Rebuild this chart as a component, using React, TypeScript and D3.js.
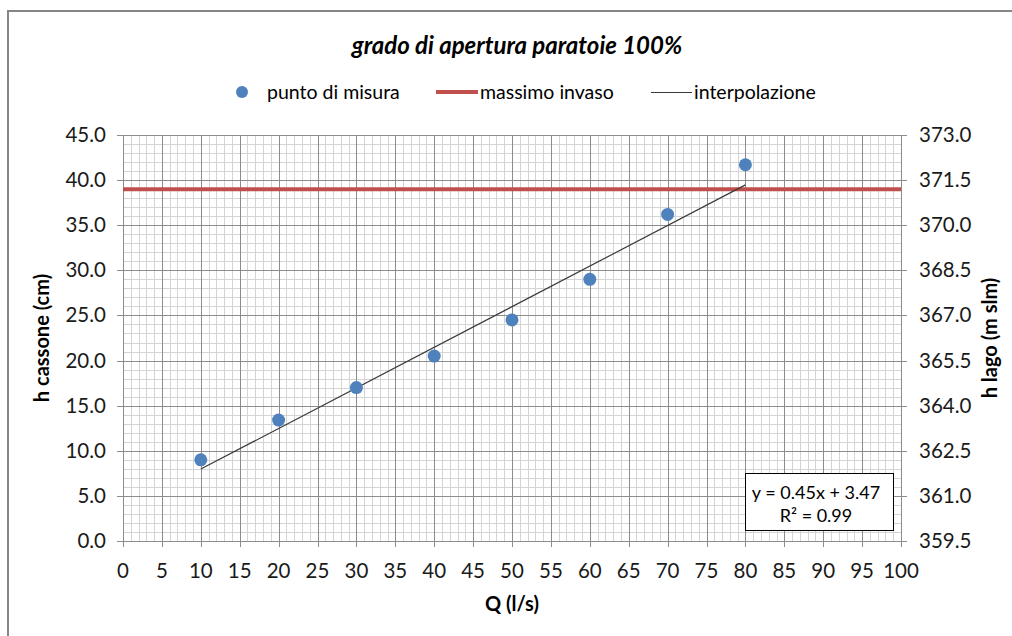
import React, { useEffect, useRef } from 'react';
import * as d3 from 'd3';

// measured points (Q in l/s, h cassone in cm)
const portate = [10, 20, 30, 40, 50, 60, 70, 80];
const altezze = [9.0, 13.4, 17.0, 20.5, 24.5, 29.0, 36.2, 41.7];

const massimoInvaso = 39.0;
const slope = 0.45;
const intercept = 3.47;
const equationLines = ['y = 0.45x + 3.47', 'R² = 0.99'];

const xTicks = d3.range(0, 101, 5);
const yTicks = d3.range(0, 46, 5);
const rightTicks = ['359.5', '361.0', '362.5', '364.0', '365.5', '367.0', '368.5', '370.0', '371.5', '373.0'];

const legendItems = ['punto di misura', 'massimo invaso', 'interpolazione'];

const FONT = 'Lato, "Open Sans", sans-serif';

const App: React.FC = () => {
  const svgRef = useRef<SVGSVGElement>(null);

  useEffect(() => {
    if (!svgRef.current) return;
    const svg = d3.select(svgRef.current);
    svg.selectAll('*').remove();

    const left = 123, right = 901, top = 135, bottom = 541;
    const x = d3.scaleLinear().domain([0, 100]).range([left, right]);
    const y = d3.scaleLinear().domain([0, 45]).range([bottom, top]);

    // outer chart frame
    svg.append('path')
      .attr('d', `M1100,11 H8 V700`)
      .attr('fill', 'none')
      .attr('stroke', '#868686')
      .attr('stroke-width', 2);

    // title
    svg.append('text')
      .attr('x', 517).attr('y', 54)
      .attr('text-anchor', 'middle')
      .attr('font-family', FONT)
      .attr('font-size', 24)
      .attr('font-weight', 'bold')
      .attr('font-style', 'italic')
      .attr('fill', '#000')
      .text('grado di apertura paratoie 100%');

    // grid: minor
    const grid = svg.append('g');
    d3.range(0, 101, 1).filter(v => v % 5 !== 0).forEach(v => {
      grid.append('line')
        .attr('x1', Math.round(x(v)) + 0.5).attr('x2', Math.round(x(v)) + 0.5)
        .attr('y1', top).attr('y2', bottom)
        .attr('stroke', '#d4d4d4').attr('stroke-width', 1);
    });
    d3.range(0, 46, 1).filter(v => v % 5 !== 0).forEach(v => {
      grid.append('line')
        .attr('y1', Math.round(y(v)) + 0.5).attr('y2', Math.round(y(v)) + 0.5)
        .attr('x1', left).attr('x2', right)
        .attr('stroke', '#d4d4d4').attr('stroke-width', 1);
    });
    // grid: major
    xTicks.forEach(v => {
      grid.append('line')
        .attr('x1', Math.round(x(v)) + 0.5).attr('x2', Math.round(x(v)) + 0.5)
        .attr('y1', top).attr('y2', bottom + 6)
        .attr('stroke', '#8c8c8c').attr('stroke-width', 1);
    });
    yTicks.forEach(v => {
      grid.append('line')
        .attr('y1', Math.round(y(v)) + 0.5).attr('y2', Math.round(y(v)) + 0.5)
        .attr('x1', left - 6).attr('x2', right + 6)
        .attr('stroke', '#8c8c8c').attr('stroke-width', 1);
    });

    // tick labels
    const tickStyle = (sel: d3.Selection<SVGTextElement, unknown, null, undefined>) =>
      sel.attr('font-family', FONT).attr('font-size', 20.5).attr('fill', '#1a1a1a');

    xTicks.forEach(v => {
      tickStyle(svg.append('text')
        .attr('x', x(v)).attr('y', 578)
        .attr('text-anchor', 'middle')
        .text(String(v)));
    });
    yTicks.forEach(v => {
      tickStyle(svg.append('text')
        .attr('x', 106).attr('y', y(v) + 7)
        .attr('text-anchor', 'end')
        .text(v.toFixed(1)));
    });
    yTicks.forEach((v, i) => {
      tickStyle(svg.append('text')
        .attr('x', 919).attr('y', y(v) + 7)
        .attr('text-anchor', 'start')
        .text(rightTicks[i]));
    });

    // axis titles
    const axisTitle = (sel: d3.Selection<SVGTextElement, unknown, null, undefined>) =>
      sel.attr('font-family', FONT).attr('font-size', 20).attr('font-weight', 'bold').attr('fill', '#000');
    axisTitle(svg.append('text')
      .attr('transform', `translate(49,${(top + bottom) / 2}) rotate(-90)`)
      .attr('text-anchor', 'middle')
      .text('h cassone (cm)'));
    axisTitle(svg.append('text')
      .attr('transform', `translate(997,${(top + bottom) / 2}) rotate(-90)`)
      .attr('text-anchor', 'middle')
      .text('h lago (m slm)'));
    axisTitle(svg.append('text')
      .attr('x', 512).attr('y', 611)
      .attr('text-anchor', 'middle')
      .text('Q (l/s)'));

    // massimo invaso
    svg.append('line')
      .attr('x1', left).attr('x2', right)
      .attr('y1', y(massimoInvaso)).attr('y2', y(massimoInvaso))
      .attr('stroke', '#c0504d').attr('stroke-width', 4);

    // interpolation
    const xExt = d3.extent(portate) as [number, number];
    const line = d3.line<number>().x(d => x(d)).y(d => y(slope * d + intercept));
    svg.append('path')
      .attr('d', line(xExt))
      .attr('fill', 'none')
      .attr('stroke', '#3a3a3a')
      .attr('stroke-width', 1.2);

    // points
    svg.append('g').selectAll('circle')
      .data(portate)
      .join('circle')
      .attr('cx', d => x(d))
      .attr('cy', (d, i) => y(altezze[i]))
      .attr('r', 6.5)
      .attr('fill', '#4f81bd');

    // equation box
    svg.append('rect')
      .attr('x', 745.5).attr('y', 473.5)
      .attr('width', 148).attr('height', 57)
      .attr('fill', '#fff')
      .attr('stroke', '#000').attr('stroke-width', 1);
    equationLines.forEach((t, i) => {
      svg.append('text')
        .attr('x', 816).attr('y', 499 + i * 23)
        .attr('text-anchor', 'middle')
        .attr('font-family', FONT).attr('font-size', 18).attr('fill', '#000')
        .text(t);
    });

    // legend
    const ly = 92;
    const legend = svg.append('g').attr('font-family', FONT).attr('font-size', 19.5).attr('fill', '#000');
    legend.append('circle').attr('cx', 242).attr('cy', ly).attr('r', 6).attr('fill', '#4f81bd');
    legend.append('text').attr('x', 267).attr('y', ly + 7).text(legendItems[0]);
    legend.append('line').attr('x1', 436).attr('x2', 478).attr('y1', ly).attr('y2', ly)
      .attr('stroke', '#c0504d').attr('stroke-width', 4);
    legend.append('text').attr('x', 480).attr('y', ly + 7).text(legendItems[1]);
    legend.append('line').attr('x1', 651).attr('x2', 692).attr('y1', ly + 0.5).attr('y2', ly + 0.5)
      .attr('stroke', '#3a3a3a').attr('stroke-width', 1);
    legend.append('text').attr('x', 694).attr('y', ly + 7).text(legendItems[2]);
  }, []);

  return (
    <svg
      ref={svgRef}
      width={1012}
      height={636}
      style={{ position: 'absolute', left: 0, top: 0, background: '#fff' }}
    />
  );
};

export default App;
